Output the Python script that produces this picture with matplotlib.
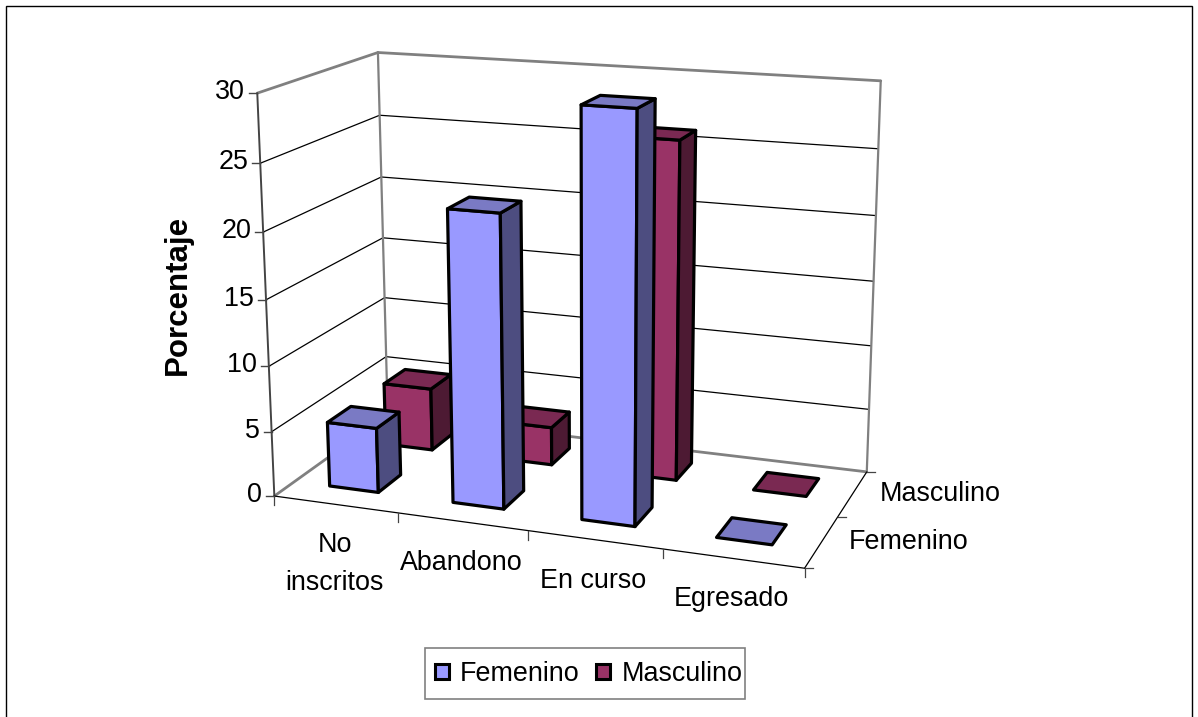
import numpy as np
import matplotlib
matplotlib.use("Agg")
import matplotlib.pyplot as plt
from matplotlib.patches import Polygon, Rectangle, Patch

plt.rcParams['font.family'] = ['Liberation Sans', 'DejaVu Sans']

# data
categories = ["No\ninscritos", "Abandono", "En curso", "Egresado"]
series_names = ["Femenino", "Masculino"]
femenino = [5, 22, 30, 0]
masculino = [5, 3, 26, 0]
z_ticks = [0, 5, 10, 15, 20, 25, 30]

# colours: front, side, top
fem_colors = ("#9999FF", "#4D4D80", "#7A7AC4")
mas_colors = ("#993366", "#4D1A33", "#7A2952")

bar_w = 0.4
bar_d = 0.4
font_size = 19.4

# frame corners seen in the picture, used to work out the perspective
frame_3d = [(0, 0, 0), (0, 0, 5), (0, 0, 25), (0, 0, 30),
            (0, 2, 0), (0, 2, 5), (0, 2, 20), (0, 2, 25), (0, 2, 30),
            (4, 2, 0), (4, 2, 20), (4, 2, 25), (4, 2, 30),
            (1, 0, 0), (2, 0, 0), (3, 0, 0), (4, 0, 0), (4, 1, 0)]
frame_px = [(275, 495.7), (271.7, 431.7), (261, 163.3), (256.7, 92.3),
            (386.5, 414), (386.7, 357), (381.7, 177.7), (379, 116), (378.3, 51.7),
            (867.7, 471), (875.3, 215.7), (877.3, 149.3), (881.7, 80.7),
            (398.3, 513.3), (526.7, 531.7), (662.7, 549), (804, 567.7), (838.3, 517.3)]

rows = []
rhs = []
for (x, y, z), (u, v) in zip(frame_3d, frame_px):
    rows.append([x, y, z, 1, 0, 0, 0, 0, -u * x, -u * y, -u * z])
    rows.append([0, 0, 0, 0, x, y, z, 1, -v * x, -v * y, -v * z])
    rhs += [u, v]
cam = np.linalg.lstsq(np.array(rows, float), np.array(rhs, float), rcond=None)[0]
cam = np.append(cam, 1).reshape(3, 4)


def project(x, y, z):
    p = cam @ np.array([x, y, z, 1.0])
    return p[0] / p[2], p[1] / p[2]


fig = plt.figure(figsize=(11.98, 7.17), dpi=100)
ax = fig.add_axes([0, 0, 1, 1])
ax.set_xlim(0, 1198)
ax.set_ylim(717, 0)
ax.axis("off")

ax.add_patch(Rectangle((6, 6), 1186, 730, fc="white", ec="black", lw=1))


def line(a, b, color="black", lw=0.9, zorder=2):
    p, q = project(*a), project(*b)
    ax.plot([p[0], q[0]], [p[1], q[1]], color=color, lw=lw, zorder=zorder,
            solid_capstyle="round")


# gridlines on the two walls
for z in z_ticks[1:-1]:
    line((0, 0, z), (0, 2, z))
    line((0, 2, z), (4, 2, z))

# wall edges
gray = "#808080"
line((0, 0, 30), (0, 2, 30), gray, 2)
line((0, 2, 30), (4, 2, 30), gray, 2)
line((4, 2, 30), (4, 2, 0), gray, 1.6)
line((0, 2, 0), (0, 2, 30), gray, 1.6)
line((0, 0, 0), (0, 2, 0), gray, 2)
line((0, 2, 0), (4, 2, 0), gray, 2)
line((0, 0, 0), (0, 0, 30), "#444444", 1.4)

# axes and ticks
line((0, 0, 0), (4, 0, 0))
line((4, 0, 0), (4, 2, 0))
for z in z_ticks:
    u, v = project(0, 0, z)
    ax.plot([u - 8, u], [v, v], color="#444444", lw=1)
    ax.text(u - 12, v - 1, str(z), ha="right", va="center", fontsize=font_size)
for i in range(5):
    u, v = project(i, 0, 0)
    ax.plot([u, u], [v, v + 9], color="#444444", lw=0.9)
for j in range(3):
    u, v = project(4, j, 0)
    ax.plot([u, u + 8], [v, v], color="#444444", lw=0.9)

for i, name in enumerate(categories):
    u, v = project(i + 0.5, 0, 0)
    ax.text(u - 1, v + 28, name, ha="center", va="top", fontsize=font_size, linespacing=1.6)
for j, name in enumerate(series_names):
    u, v = project(4, j + 0.5, 0)
    ax.text(u + 27, v, name, ha="left", va="center", fontsize=font_size)

ax.text(178, 295, "Porcentaje", rotation=90, ha="center", va="center",
        fontsize=22.5, fontweight="bold")


def face(points, color, zorder):
    ax.add_patch(Polygon([project(*p) for p in points], closed=True, fc=color,
                         ec="black", lw=2.3, joinstyle="round", zorder=zorder))


def bar(i, j, value, colors, zorder):
    x0 = i + (1 - bar_w) / 2 - 0.01
    x1 = x0 + bar_w
    y0 = j + (1 - bar_d) / 2 + 0.03
    y1 = y0 + bar_d
    if value > 0:
        face([(x0, y0, 0), (x1, y0, 0), (x1, y0, value), (x0, y0, value)], colors[0], zorder)
        face([(x1, y0, 0), (x1, y1, 0), (x1, y1, value), (x1, y0, value)], colors[1], zorder)
    face([(x0, y0, value), (x1, y0, value), (x1, y1, value), (x0, y1, value)], colors[2], zorder)


# back row first so the front row covers it
for i, v in enumerate(masculino):
    bar(i, 1, v, mas_colors, 3 + i * 0.1)
for i, v in enumerate(femenino):
    bar(i, 0, v, fem_colors, 4 + i * 0.1)

# legend box is drawn apart because its padding is uneven in the original
ax.add_patch(Rectangle((425, 648), 320, 51, fc="white", ec=gray, lw=1.2, zorder=5))
handles = [Patch(fc=fem_colors[0], ec="black", lw=2.2, label=series_names[0]),
           Patch(fc=mas_colors[0], ec="black", lw=2.2, label=series_names[1])]
leg = ax.legend(handles=handles, ncol=2, loc="center", bbox_to_anchor=(588.5, 674),
                bbox_transform=ax.transData, fontsize=font_size, frameon=False,
                handlelength=0.52, handleheight=0.52, handletextpad=0.41,
                columnspacing=0.63, borderpad=0, borderaxespad=0)
leg.set_zorder(6)

fig.savefig("out.png", dpi=100)
